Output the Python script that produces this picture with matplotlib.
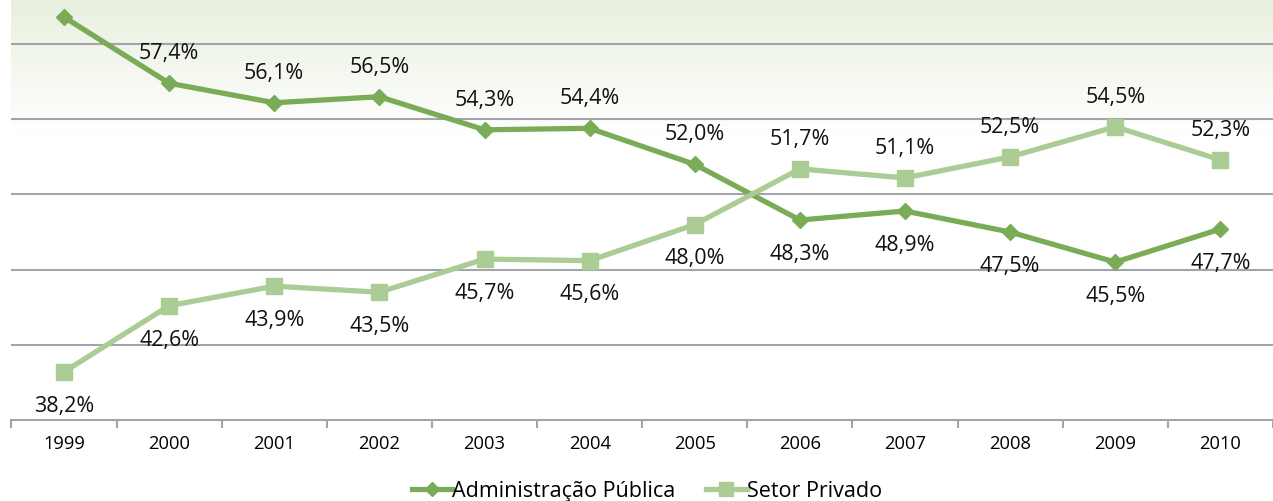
import matplotlib
matplotlib.use("Agg")
import matplotlib.pyplot as plt
import numpy as np

plt.rcParams['font.family'] = ['Open Sans', 'DejaVu Sans']

years = ["1999", "2000", "2001", "2002", "2003", "2004", "2005", "2006", "2007", "2008", "2009", "2010"]
admin_publica = [61.8, 57.4, 56.1, 56.5, 54.3, 54.4, 52.0, 48.3, 48.9, 47.5, 45.5, 47.7]
setor_privado = [38.2, 42.6, 43.9, 43.5, 45.7, 45.6, 48.0, 51.7, 51.1, 52.5, 54.5, 52.3]
admin_label_above = [True, True, True, True, True, True, True, False, False, False, False, False]
priv_label_above = [False, False, False, False, False, False, False, True, True, True, True, True]

c_admin = "#7aab57"
c_priv = "#abcc94"

W, H = 1273, 502
fig = plt.figure(figsize=(W / 100, H / 100), dpi=100)
ax_left = 11.4 / W
ax_right = 1.0
ax_bottom = (H - 421) / H
ax = fig.add_axes([ax_left, ax_bottom, ax_right - ax_left, 1 - ax_bottom])

n = len(years)
x = np.arange(n)
ax.set_xlim(-0.5, n - 0.5)
ax.set_ylim(35, 63)

# background gradient (row 0 = top)
grad = np.linspace(0, 1, 512).reshape(-1, 1)
top = np.array([0.91, 0.94, 0.87])
white = np.array([1.0, 1.0, 1.0])
frac = np.clip(grad / 0.32, 0, 1)
img = white * frac + top * (1 - frac)
img = img.reshape(512, 1, 3)
ax.imshow(img, extent=(-0.5, n - 0.5, 35, 63), aspect='auto', zorder=0,
          origin='upper', interpolation='bilinear')

for gy in [40, 45, 50, 55, 60]:
    ax.axhline(gy, color="#a3a3ab", lw=1.5, zorder=1)

ax.plot(x, admin_publica, color=c_admin, lw=3.8, marker='D', markersize=8.5,
        label="Administração Pública", zorder=3)
ax.plot(x, setor_privado, color=c_priv, lw=3.8, marker='s', markersize=12,
        label="Setor Privado", zorder=3)

def fmt(v):
    return f"{v:.1f}%".replace(".", ",")

for i in range(n):
    if i > 0:
        off = 22 if admin_label_above[i] else -24
        ax.annotate(fmt(admin_publica[i]), (x[i], admin_publica[i]), xytext=(0, off),
                    textcoords='offset points', ha='center', va='center', fontsize=15.5,
                    color="#111111", zorder=4)
    off = 22 if priv_label_above[i] else -24
    ax.annotate(fmt(setor_privado[i]), (x[i], setor_privado[i]), xytext=(0, off),
                textcoords='offset points', ha='center', va='center', fontsize=15.5,
                color="#111111", zorder=4)

for s in ['top', 'right', 'left']:
    ax.spines[s].set_visible(False)
ax.spines['bottom'].set_color("#a3a3ab")
ax.spines['bottom'].set_linewidth(1.5)
ax.set_yticks([])
ax.set_xticks(x)
ax.set_xticklabels(years, fontsize=13.2)
ax.tick_params(axis='x', which='major', length=0, pad=10)
ax.set_xticks(np.arange(-0.5, n, 1.0), minor=True)
ax.tick_params(axis='x', which='minor', length=6, width=1.5, color="#a3a3ab")

leg = fig.legend(loc='center', bbox_to_anchor=(0.508, 1 - 492 / H), ncol=2, frameon=False,
                 fontsize=15.5, handlelength=1.9, handletextpad=0.0, columnspacing=1.4,
                 markerscale=0.8)

fig.savefig("out.png", dpi=100)
